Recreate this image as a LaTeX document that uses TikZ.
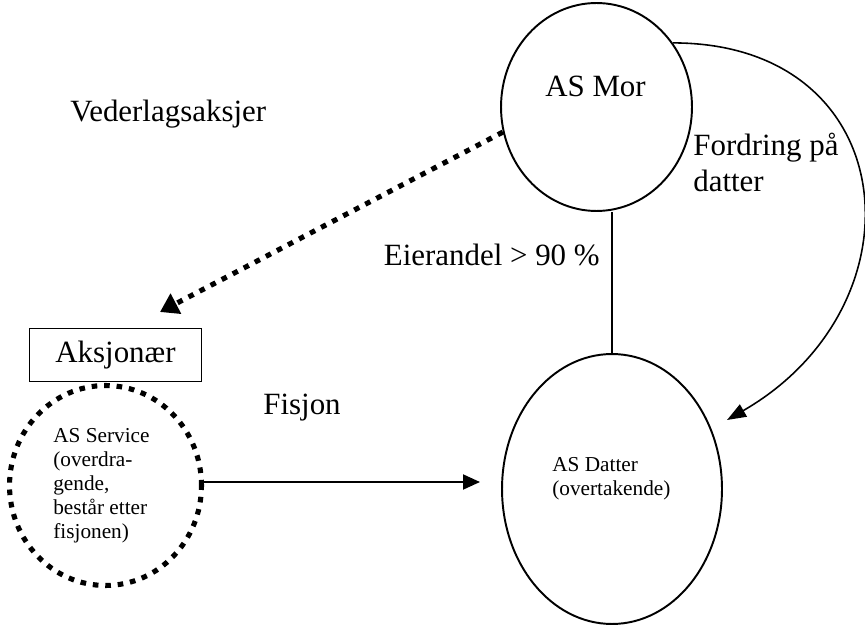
\documentclass[tikz,border=0pt]{standalone}
\usepackage{fontspec}
\setmainfont{Liberation Serif}
\usetikzlibrary{calc}
\usetikzlibrary{positioning}
\usetikzlibrary{shapes.geometric}
\usetikzlibrary{arrows.meta}
\tikzstyle{bigtext} = [font=\fontsize{17.6}{21}\selectfont, inner sep=0pt]
\tikzstyle{smalltext} = [font=\fontsize{12.1}{13.6}\selectfont, inner sep=0pt, align=left]
\tikzstyle{companynode} = [draw, ellipse, line width=1.1pt, inner sep=0pt]
\tikzstyle{fatdots} = [line width=2.9pt, dash pattern=on 3.2pt off 3.9pt]
\tikzstyle{plainline} = [line width=1.1pt]

\begin{document}
\begin{tikzpicture}[x=0.02cm, y=0.02cm]
    \useasboundingbox (0,0) rectangle (865,626);
    \node[companynode, minimum width=3.82cm, minimum height=4.16cm] (mor) at (596.5,519) {};
    \node[companynode, minimum width=4.4cm, minimum height=5.4cm] (datter) at (612,137) {};
    \node[companynode, fatdots, minimum width=3.84cm, minimum height=4.0cm] (service) at (105.5,140.5) {};
    \node[draw, line width=0.8pt, minimum width=3.43cm, minimum height=1.05cm, bigtext] (aksjonaer) at (115.5,271) {Aksjonær};

    \node[bigtext, anchor=base] (mor_text) at ($(mor)+(-1,10)$) {AS Mor};
    \node[smalltext, anchor=base west] (datter_text) at ($(datter)+(-60,-6)$) {AS Datter\\(overtakende)};
    \node[smalltext, anchor=base west] (service_text) at ($(service)+(-52.5,-52.5)$) {AS Service\\(overdra-\\gende,\\består etter\\fisjonen)};

    \node[bigtext, anchor=base west] (vederlag) at (70,504) {Vederlagsaksjer};
    \node[bigtext, anchor=base east] (eierandel) at (600,360) {Eierandel > 90 \%};
    \node[bigtext, anchor=base west] (fisjon) at (263,212) {Fisjon};
    \node[bigtext, anchor=base west, align=left] (fordring) at (693,434) {Fordring på\\datter};

    \coordinate (vederlag_tip) at (160,314);
    \coordinate (fisjon_tip) at (480,144);
    \coordinate (fordring_tip) at (727,206);

    \draw[plainline] (datter.north) -- (datter.north |- mor.south);
    \draw[fatdots, -{Triangle[length=0.36cm, width=0.44cm]}] (mor.195) -- (vederlag_tip);
    \draw[plainline, -{Triangle[length=0.34cm, width=0.3cm]}] (fisjon_tip -| service.east) -- (fisjon_tip);
    \draw[line width=0.9pt, -{Triangle[length=0.38cm, width=0.28cm]}] (mor.40) to[out=0, in=30, looseness=1.55] (fordring_tip);
\end{tikzpicture}
\end{document}
